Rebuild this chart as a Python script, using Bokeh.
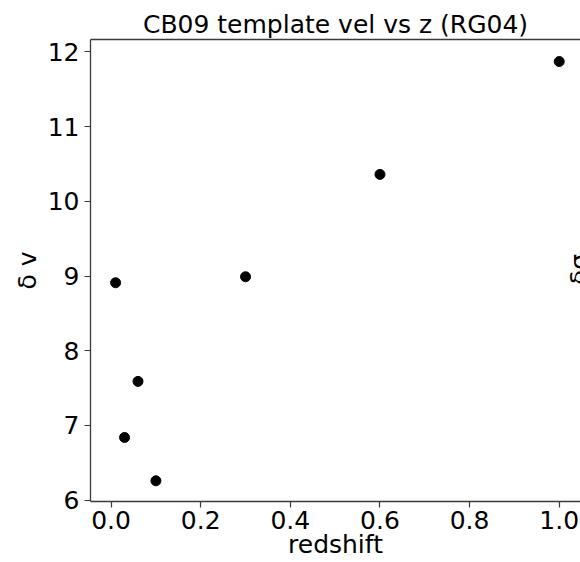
from bokeh.plotting import figure
from bokeh.models import (ColumnDataSource, LinearAxis, FixedTicker, PrintfTickFormatter,
                          Range1d, Label)
from bokeh.embed import file_html
from bokeh.resources import INLINE

# data
redshift = [0.01, 0.03, 0.06, 0.10, 0.30, 0.60, 1.00]
delta_v = [8.91, 6.84, 7.59, 6.26, 8.99, 10.36, 11.87]
x_ticks = [0.0, 0.2, 0.4, 0.6, 0.8, 1.0]
y_ticks = [6, 7, 8, 9, 10, 11, 12]

FONT = "DejaVu Sans"
FS = "25px"
SPINE = "#3a3a3a"

src = ColumnDataSource(dict(x=redshift, y=delta_v))

p = figure(width=580, height=562, output_backend="svg", toolbar_location=None,
           x_range=Range1d(-0.046, 1.0475), y_range=Range1d(5.983, 12.165),
           min_border_left=90, min_border_right=0, min_border_top=39,
           min_border_bottom=61, title="CB09 template vel vs z (RG04)")
p.background_fill_color = "white"
p.border_fill_color = "white"
p.outline_line_color = None
p.xgrid.visible = False
p.ygrid.visible = False

p.title.text_font = FONT
p.title.text_font_size = FS
p.title.text_font_style = "normal"
p.title.text_color = "black"
p.title.align = "center"
p.title.standoff = 2

p.scatter("x", "y", source=src, size=10, color="black")

for ax in (p.xaxis[0], p.yaxis[0]):
    ax.axis_line_color = SPINE
    ax.axis_line_width = 1.3
    ax.major_tick_line_color = SPINE
    ax.major_tick_line_width = 1.2
    ax.major_tick_out = 6
    ax.major_tick_in = 0
    ax.minor_tick_line_color = None
    ax.major_label_text_font = FONT
    ax.major_label_text_font_size = FS
    ax.major_label_text_color = "black"
    ax.axis_label_text_font = FONT
    ax.axis_label_text_font_size = FS
    ax.axis_label_text_font_style = "normal"
    ax.axis_label_text_color = "black"

p.xaxis.ticker = FixedTicker(ticks=x_ticks)
p.xaxis.formatter = PrintfTickFormatter(format="%.1f")
p.xaxis.major_label_standoff = 3
p.xaxis.axis_label = "redshift"
p.xaxis.axis_label_standoff = -2

p.yaxis.ticker = FixedTicker(ticks=y_ticks)
p.yaxis.axis_label = "δ v"
p.yaxis.major_label_standoff = 5
p.yaxis.axis_label_standoff = 3

top = LinearAxis(ticker=FixedTicker(ticks=[]), major_label_text_font_size="0px",
                 major_tick_out=0, major_tick_in=0, minor_tick_out=0, minor_tick_in=0,
                 axis_line_color=SPINE, axis_line_width=1.3)
p.add_layout(top, "above")

# neighbouring panel's axis label, cut off by the window edge
p.add_layout(Label(x=474, y=232, x_units="screen", y_units="screen", text="δσ",
                   angle=1.5708, text_font=FONT, text_font_size=FS,
                   text_align="center", text_baseline="top", text_color="black"))

open("out.html", "w").write(file_html(p, INLINE))
